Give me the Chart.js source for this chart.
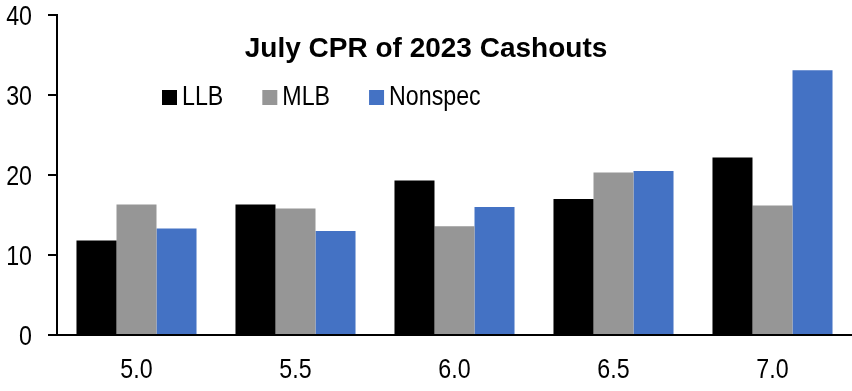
<!DOCTYPE html>
<html>
<head>
<meta charset="utf-8">
<script src="https://cdn.jsdelivr.net/npm/chart.js@4"></script>
<style>
  html, body { margin: 0; padding: 0; background: #fff; }
  #wrap { width: 852px; height: 391px; position: relative; }
</style>
</head>
<body>
<div id="wrap"><canvas id="c" width="852" height="391"></canvas></div>
<script>
const categories = ["5.0", "5.5", "6.0", "6.5", "7.0"];
const llb = [11.8, 16.3, 19.3, 17.0, 22.2];
const mlb = [16.3, 15.8, 13.6, 20.3, 16.2];
const nonspec = [13.3, 13.0, 16.0, 20.5, 33.1];
const seriesNames = ["LLB", "MLB", "Nonspec"];
const seriesColors = ["#000000", "#969696", "#4472C4"];
const titleText = "July CPR of 2023 Cashouts";
const yTicks = [0, 10, 20, 30, 40];

const FONT = "27px 'Liberation Sans', Arial, sans-serif";
const SQUEEZE = 0.86;   // emulate a narrow face
const CAP = 19;         // cap height in px

function narrowText(ctx, text, x, y, align) {
  ctx.save();
  ctx.font = FONT;
  ctx.textBaseline = 'alphabetic';
  ctx.textAlign = 'left';
  const w = ctx.measureText(text).width * SQUEEZE;
  let left = x;
  if (align === 'center') left = x - w / 2;
  else if (align === 'right') left = x - w;
  ctx.translate(left, y);
  ctx.scale(SQUEEZE, 1);
  ctx.fillText(text, 0, 0);
  ctx.restore();
  return w;
}

const overlay = {
  id: 'overlay',
  afterDraw(chart) {
    const ctx = chart.ctx;
    ctx.save();
    ctx.fillStyle = '#000';
    // axis tick labels, positioned by the chart's scales
    const xs = chart.scales.x, ys = chart.scales.y;
    xs.ticks.forEach((t, i) => {
      narrowText(ctx, String(xs.getLabelForValue(t.value)), xs.getPixelForTick(i), 378, 'center');
    });
    ys.ticks.forEach((t, i) => {
      narrowText(ctx, String(t.value), 32, ys.getPixelForTick(i) + CAP / 2, 'right');
    });
    // title
    ctx.font = "bold 28px 'Liberation Sans', Arial, sans-serif";
    ctx.textAlign = 'center';
    ctx.textBaseline = 'alphabetic';
    ctx.fillText(titleText, 426, 57);
    // legend
    let x = 162;
    chart.data.datasets.forEach((ds) => {
      ctx.fillStyle = ds.backgroundColor;
      ctx.fillRect(x, 90, 15, 15);
      x += 15 + 5;
      ctx.fillStyle = '#000';
      x += narrowText(ctx, ds.label, x, 105, 'left') + 39;
    });
    ctx.restore();
  }
};

new Chart(document.getElementById('c'), {
  type: 'bar',
  data: {
    labels: categories,
    datasets: [
      { label: seriesNames[0], data: llb, backgroundColor: seriesColors[0] },
      { label: seriesNames[1], data: mlb, backgroundColor: seriesColors[1] },
      { label: seriesNames[2], data: nonspec, backgroundColor: seriesColors[2] }
    ]
  },
  options: {
    responsive: false,
    animation: false,
    devicePixelRatio: 1,
    layout: { padding: { top: 15, right: 0, left: 0, bottom: 0 } },
    datasets: { bar: { categoryPercentage: 0.755, barPercentage: 1.0 } },
    plugins: {
      legend: { display: false },
      title: { display: false },
      tooltip: { enabled: false }
    },
    scales: {
      x: {
        grid: { display: false, drawTicks: false },
        border: { display: true, color: '#000', width: 2 },
        ticks: { display: false },
        afterFit(scale) { scale.height = 56; }
      },
      y: {
        min: 0,
        max: 40,
        afterBuildTicks(scale) { scale.ticks = yTicks.map(v => ({ value: v })); },
        grid: { drawOnChartArea: false, drawTicks: true, tickLength: 9, color: '#000', lineWidth: 2 },
        border: { display: true, color: '#000', width: 2 },
        ticks: { display: false },
        afterFit(scale) { scale.width = 57; }
      }
    }
  },
  plugins: [overlay]
});
</script>
</body>
</html>
